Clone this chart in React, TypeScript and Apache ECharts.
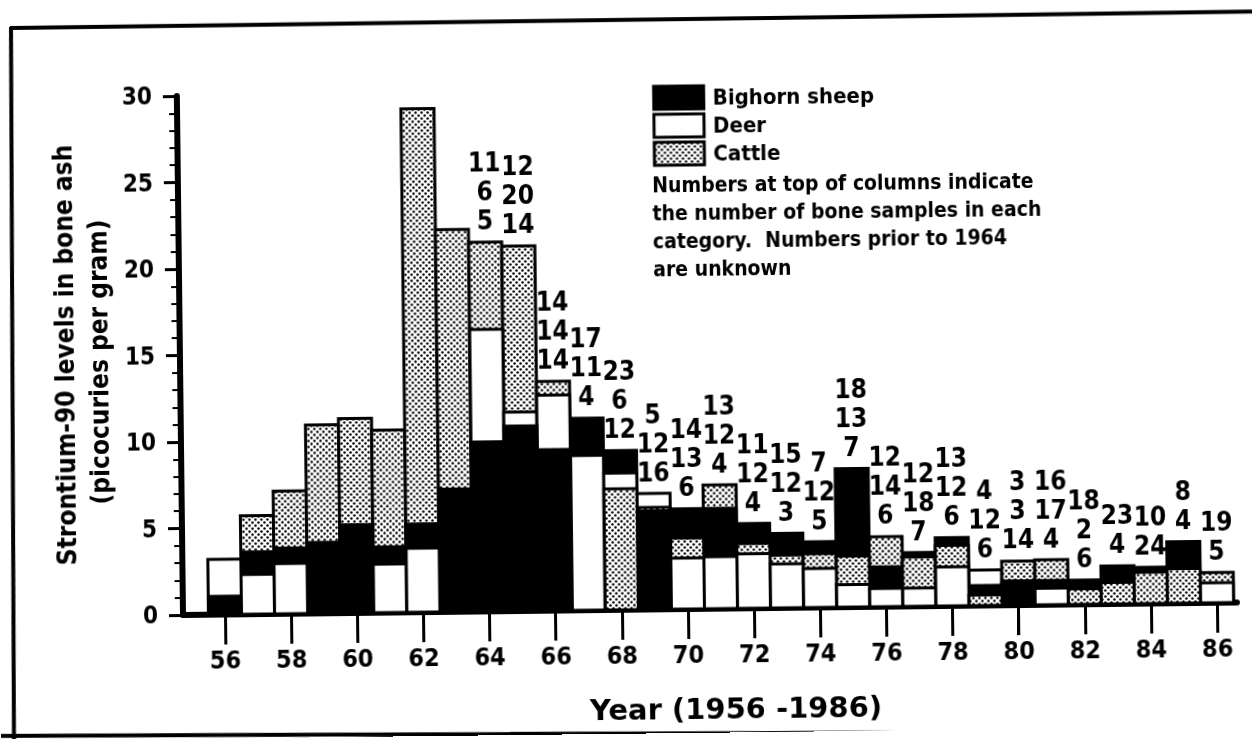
import React, { useEffect, useRef } from "react";
import * as echarts from "echarts";

// ---------- data ----------
const years = [56, 57, 58, 59, 60, 61, 62, 63, 64, 65, 66, 67, 68, 69, 70, 71, 72, 73, 74, 75, 76, 77, 78, 79, 80, 81, 82, 83, 84, 85, 86];

const bighornSheep = [1.05, 3.6, 3.8, 4.1, 5.1, 3.8, 5.1, 7.1, 9.8, 10.7, 9.3, 11.1, 9.2, 5.7, 5.8, 5.8, 4.9, 4.3, 3.8, 8.0, 2.3, 3.1, 3.95, 1.15, 1.25, 1.4, 1.4, 2.2, 2.1, 3.55, null];
const deer = [3.2, 2.3, 2.9, null, null, 2.8, 3.7, null, 16.3, 11.5, 12.45, 8.95, 7.9, 6.7, 2.95, 3.0, 3.15, 2.55, 2.25, 1.3, 1.05, 1.05, 2.25, 2.05, 1.4, 0.95, null, null, null, null, 1.15];
const cattle = [null, 5.7, 7.1, 10.9, 11.25, 10.55, 29.1, 22.1, 21.35, 21.1, 13.25, null, 7.0, 5.9, 4.1, 7.15, 3.75, 3.05, 3.1, 2.95, 4.05, 2.85, 3.5, 0.6, 2.55, 2.6, 0.9, 1.25, 1.8, 2.0, 1.75];

// sample counts printed above the columns (1964 onward)
const countYears = [64, 65, 66, 67, 68, 69, 70, 71, 72, 73, 74, 75, 76, 77, 78, 79, 80, 81, 82, 83, 84, 85, 86];
const countLine1 = ["11", "12", "14", "17", "23", "5", "14", "13", "11", "15", "7", "18", "12", "12", "13", "4", "3", "16", "18", "23", "10", "8", "19"];
const countLine2 = ["6", "20", "14", "11", "6", "12", "13", "12", "12", "12", "12", "13", "14", "18", "12", "12", "3", "17", "2", "4", "24", "4", "5"];
const countLine3 = ["5", "14", "14", "4", "12", "16", "6", "4", "4", "3", "5", "7", "6", "7", "6", "6", "14", "4", "6", "", "", "", ""];

const yearTicks = [56, 58, 60, 62, 64, 66, 68, 70, 72, 74, 76, 78, 80, 82, 84, 86];

const seriesNames = ["Bighorn sheep", "Deer", "Cattle"];
const noteLines = [
  "Numbers at top of columns indicate",
  "the number of bone samples in each",
  "category.  Numbers prior to 1964",
  "are unknown",
];

const COND = "'DejaVu Sans Condensed', 'Liberation Sans Narrow', 'DejaVu Sans', sans-serif";
const WIDE = "'DejaVu Sans', Verdana, sans-serif";

// the scanned page is tilted slightly; reproduce the tilt about the chart origin
const TILT_DEG = -0.68;
const OX = 183;
const OY = 615;

function makeDots(): string {
  const c = document.createElement("canvas");
  c.width = 6;
  c.height = 6;
  const ctx = c.getContext("2d")!;
  ctx.fillStyle = "#fff";
  ctx.fillRect(0, 0, 6, 6);
  ctx.fillStyle = "#000";
  ctx.beginPath();
  ctx.arc(1.5, 1.5, 1.25, 0, Math.PI * 2);
  ctx.fill();
  ctx.beginPath();
  ctx.arc(4.5, 4.5, 1.25, 0, Math.PI * 2);
  ctx.fill();
  return c.toDataURL();
}

// page position -> position inside the tilted chart box
function inv(x: number, y: number): [number, number] {
  const a = (-TILT_DEG * Math.PI) / 180;
  const X = x - OX;
  const Y = y - OY;
  return [OX + X * Math.cos(a) - Y * Math.sin(a), OY + X * Math.sin(a) + Y * Math.cos(a)];
}

export default function App() {
  const ref = useRef<HTMLDivElement>(null);

  useEffect(() => {
    if (!ref.current) return;
    const chart = echarts.init(ref.current, null, { renderer: "svg" });
    const dots = { image: makeDots(), repeat: "repeat", imageWidth: 6, imageHeight: 6 } as any;
    const fills = ["#000", "#fff", dots];
    const animals = [bighornSheep, deer, cattle];

    const rankAt = (i: number, k: number) => {
      const v = animals[k][i] as number;
      let r = 0;
      for (let j = 0; j < 3; j++) {
        if (j === k) continue;
        const w = animals[j][i];
        if (w == null) continue;
        if (w > v || (w === v && j < k)) r++;
      }
      return r;
    };

    const barSeries = animals.map((arr, k) => ({
      type: "custom",
      name: seriesNames[k],
      itemStyle: { color: fills[k], borderColor: "#000", borderWidth: 3 },
      encode: { x: 0, y: 1 },
      data: years
        .map((y, i) => [y, arr[i], i])
        .filter((d) => d[1] != null),
      renderItem: (params: any, api: any) => {
        const yr = api.value(0);
        const v = api.value(1);
        const i = api.value(2);
        const tl = api.coord([yr - 0.5, v]);
        const br = api.coord([yr + 0.5, 0]);
        return {
          type: "rect",
          shape: { x: tl[0], y: tl[1], width: br[0] - tl[0], height: br[1] - tl[1] },
          style: { fill: fills[k], stroke: "#000", lineWidth: 3 },
          z2: 10 + rankAt(i, k),
        };
      },
    }));

    const labelSeries = {
      type: "custom",
      name: "counts",
      silent: true,
      encode: { x: 0, y: 1 },
      data: countYears.map((y, j) => {
        const i = years.indexOf(y);
        const top = Math.max(...animals.map((a) => (a[i] == null ? 0 : (a[i] as number))));
        return [y, top, j];
      }),
      renderItem: (params: any, api: any) => {
        const yr = api.value(0);
        const top = api.value(1);
        const j = api.value(2);
        const p = api.coord([yr, top]);
        const lines = [countLine1[j], countLine2[j], countLine3[j]].filter((s) => s !== "");
        return {
          type: "text",
          x: p[0],
          y: p[1] - 7,
          z2: 50,
          style: {
            text: lines.join("\n"),
            fill: "#000",
            font: `bold 26px ${COND}`,
            lineHeight: 29,
            align: "center",
            textAlign: "center",
            verticalAlign: "bottom",
            textVerticalAlign: "bottom",
          },
        };
      },
    };

    const legendPos = inv(647, 80);
    const notePos = inv(652, 171);
    const yt1 = inv(65, 355);
    const yt2 = inv(99, 362);
    const xt = inv(736, 708);
    const centered = { align: "center", textAlign: "center", verticalAlign: "middle", textVerticalAlign: "middle" };

    const option: any = {
      animation: false,
      grid: { left: 183, right: 22, top: 96, bottom: 124 },
      legend: {
        orient: "vertical",
        left: legendPos[0],
        top: legendPos[1],
        icon: "rect",
        itemWidth: 50,
        itemHeight: 23,
        itemGap: 2,
        selectedMode: false,
        data: seriesNames.map((n, k) => ({
          name: n,
          itemStyle: { color: fills[k], borderColor: "#000", borderWidth: 3 },
        })),
        textStyle: { fontSize: 22, fontWeight: "bold", fontFamily: COND, color: "#000", padding: [0, 0, 0, 4] },
      },
      xAxis: {
        type: "value",
        min: 54.73,
        max: 86.6,
        splitLine: { show: false },
        axisLine: { show: true, onZero: false, lineStyle: { color: "#000", width: 6 } },
        axisTick: { show: true, customValues: yearTicks, length: 30, lineStyle: { color: "#000", width: 3 } },
        axisLabel: {
          customValues: yearTicks,
          margin: 33,
          fontSize: 25,
          fontWeight: "bold",
          fontFamily: COND,
          color: "#000",
          formatter: (v: number) => String(v),
        },
      },
      yAxis: {
        type: "value",
        min: 0,
        max: 30,
        interval: 5,
        splitLine: { show: false },
        axisLine: { show: true, lineStyle: { color: "#000", width: 6 } },
        axisTick: { show: true, length: 14, lineStyle: { color: "#000", width: 3 } },
        minorTick: { show: true, splitNumber: 5, length: 8, lineStyle: { color: "#000", width: 2 } },
        axisLabel: { margin: 25, fontSize: 24, fontWeight: "bold", fontFamily: COND, color: "#000" },
      },
      graphic: [
        { type: "polyline", shape: { points: [inv(10, 28), inv(1300, 11)] }, style: { stroke: "#000", lineWidth: 4, fill: null } },
        { type: "polyline", shape: { points: [inv(11, 27), inv(14, 745)] }, style: { stroke: "#000", lineWidth: 4, fill: null } },
        { type: "polyline", shape: { points: [inv(-20, 736), inv(1300, 731)] }, style: { stroke: "#000", lineWidth: 4, fill: null } },
        {
          type: "text",
          x: yt1[0],
          y: yt1[1],
          rotation: Math.PI / 2,
          style: { text: "Strontium-90 levels in bone ash", font: `bold 26px ${COND}`, fill: "#000", ...centered },
        },
        {
          type: "text",
          x: yt2[0],
          y: yt2[1],
          rotation: Math.PI / 2,
          style: { text: "(picocuries per gram)", font: `bold 26px ${COND}`, fill: "#000", ...centered },
        },
        {
          type: "text",
          x: xt[0],
          y: xt[1],
          style: { text: "Year (1956 -1986)", font: `bold 29px ${WIDE}`, fill: "#000", ...centered },
        },
        {
          type: "text",
          x: notePos[0],
          y: notePos[1],
          style: { text: noteLines.join("\n"), font: `bold 21px ${COND}`, lineHeight: 28, fill: "#000", align: "left", textAlign: "left", verticalAlign: "top", textVerticalAlign: "top" },
        },
      ],
      series: [...barSeries, labelSeries],
    };
    chart.setOption(option);
    return () => chart.dispose();
  }, []);

  return (
    <div
      ref={ref}
      style={{
        position: "fixed",
        left: 0,
        top: 0,
        width: 1259,
        height: 739,
        background: "#fff",
        transform: `rotate(${TILT_DEG}deg)`,
        transformOrigin: `${OX}px ${OY}px`,
      }}
    />
  );
}
